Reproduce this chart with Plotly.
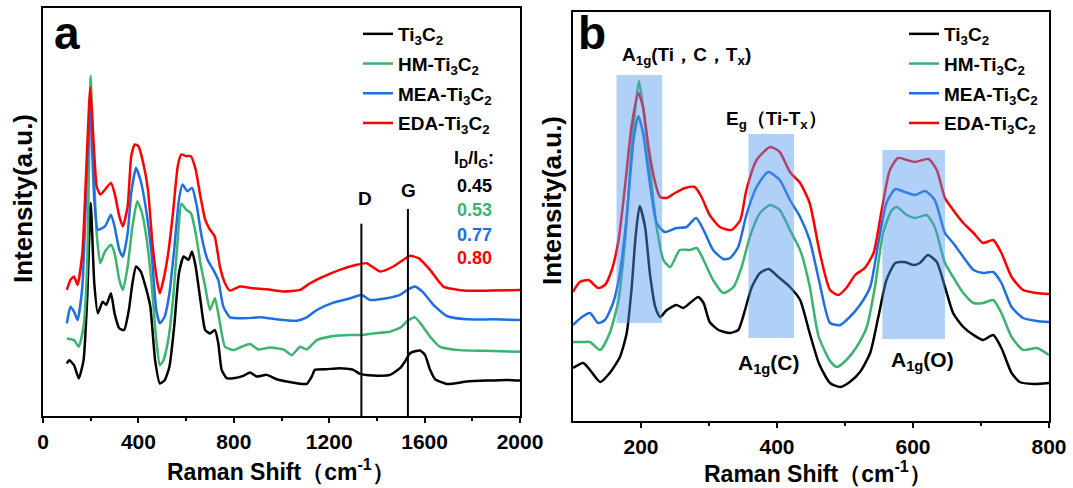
import plotly.graph_objects as go

W, H = 1073, 488
FONT = "Liberation Sans, Arial, sans-serif"

# ---------------- Panel a data (Raman shift cm-1, intensity a.u.) ----------------
a_black_x = [100,110,130,150,170,185,200,215,230,250,265,285,300,320,340,360,375,390,410,430,450,470,490,510,530,550,570,590,610,625,640,660,680,700,721,735,749,770,798,840,868,896,938,980,1022,1064,1106,1127,1140,1189,1245,1301,1329,1385,1455,1497,1518,1539,1581,1602,1623,1644,1693,1777,1861,1945,2000]
a_black_y = [157,167,152,112,167,347,637,397,307,342,332,367,307,262,257,317,397,447,432,387,327,167,97,107,147,267,427,477,467,492,447,347,257,247,257,217,138,113,113,120,130,118,123,110,103,98,96,118,138,140,143,138,126,121,123,143,163,188,196,182,138,110,96,103,106,108,106]

a_green_x = [100,130,150,170,185,200,210,225,240,260,285,300,320,335,355,375,395,415,435,455,475,490,505,525,545,565,580,600,620,640,660,680,700,721,742,763,798,833,868,903,952,1008,1043,1078,1106,1148,1218,1288,1336,1385,1455,1504,1532,1560,1588,1623,1665,1749,1847,2000]
a_green_y = [232,227,207,267,447,1017,797,547,457,492,512,487,407,377,447,567,642,607,527,397,227,152,167,227,347,527,635,617,607,547,457,387,317,352,277,207,197,207,215,199,205,199,182,207,199,227,239,242,242,247,252,267,287,295,272,237,207,197,195,192]

a_blue_x = [100,115,130,145,165,185,198,215,230,260,285,300,320,335,355,370,390,410,430,455,475,490,510,530,550,570,585,605,625,645,665,690,714,735,756,784,840,910,980,1064,1106,1148,1218,1288,1336,1371,1441,1497,1532,1560,1595,1637,1693,1777,1889,2000]
a_blue_y = [277,327,312,287,387,747,917,647,557,567,602,567,497,477,547,667,742,702,627,487,317,277,297,367,497,647,692,672,682,627,537,467,437,406,327,295,292,295,289,285,295,317,339,352,362,347,352,362,379,387,369,332,299,289,289,287]

a_red_x = [100,115,130,145,165,185,198,210,225,240,260,285,300,320,335,355,370,385,400,420,440,460,480,490,505,525,545,565,580,600,620,640,660,680,700,720,742,763,784,826,882,938,1008,1078,1120,1176,1245,1315,1357,1413,1469,1511,1539,1574,1623,1679,1763,1875,2000]
a_red_y = [377,407,417,392,487,797,982,847,687,662,677,697,667,597,567,627,777,812,807,757,677,507,397,367,407,487,607,747,782,777,777,737,657,587,557,537,446,397,375,387,382,379,372,377,397,417,437,452,457,432,447,467,479,472,437,387,375,375,377]

band_pos = [1335, 1530]          # D and G band positions
band_top = [575, 619]
band_names = ["D", "G"]
ratio_values = ["0.45", "0.53", "0.77", "0.80"]

# ---------------- Panel b data ----------------
b_black_x = [100,115,125,140,154,169,179,186,192,198,206,213,221,228,238,252,262,272,284,292,301,314,331,343,350,363,375,388,402,419,434,448,462,478,493,507,522,537,549,561,574,588,600,610,622,635,647,659,674,689,703,718,730,745,757,777,800]
b_black_y = [53,58,51,39,48,64,88,131,184,215,194,148,114,104,111,116,113,118,124,118,99,91,88,91,104,134,148,152,144,134,121,88,57,38,34,39,49,68,104,141,158,159,156,158,166,159,134,108,94,86,81,86,73,48,39,37,38]

b_green_x = [100,115,125,140,154,167,177,186,193,197,203,213,223,233,243,257,272,282,292,306,321,336,348,360,375,390,404,419,434,448,461,478,488,502,517,532,544,556,569,576,591,603,620,632,647,659,674,689,703,718,730,745,762,782,800]
b_green_y = [79,79,79,71,88,121,184,271,321,340,314,254,194,161,154,171,171,173,161,141,128,134,154,184,208,216,211,191,171,135,85,60,54,61,74,94,134,188,211,214,206,203,206,194,158,144,128,118,118,121,108,84,71,73,66]

b_blue_x = [100,113,125,137,147,159,169,179,189,196,203,213,223,235,252,267,281,292,306,321,331,343,355,370,387,404,419,434,448,462,478,493,507,522,537,549,561,574,588,603,618,632,647,659,674,689,703,718,730,745,762,782,800]
b_blue_y = [96,104,108,98,101,118,148,204,281,305,288,238,198,189,193,194,203,191,171,162,163,174,206,234,249,241,221,204,181,140,98,96,104,116,134,178,218,232,229,226,230,221,188,178,164,151,148,149,138,114,103,100,99]

b_red_x = [100,110,123,137,147,157,167,177,186,196,203,211,221,228,238,250,265,279,289,301,316,333,346,355,370,390,404,419,434,448,463,478,490,502,515,529,542,554,566,578,591,603,623,635,647,659,674,689,703,718,730,745,762,782,800]
b_red_y = [129,139,141,133,136,151,181,238,294,328,314,274,238,224,223,228,233,234,224,206,194,191,201,231,261,274,269,249,238,218,168,131,126,133,146,153,168,211,251,263,261,259,262,251,223,211,198,188,178,181,168,144,131,128,127]

# highlighted vibration-mode regions: x0, x1, y0, y1
mode_x0 = [164, 358, 555]
mode_x1 = [231, 425, 647]
mode_y0 = [98, 83, 82]
mode_y1 = [346, 287, 271]

names = ["Ti<sub>3</sub>C<sub>2</sub>", "HM-Ti<sub>3</sub>C<sub>2</sub>",
         "MEA-Ti<sub>3</sub>C<sub>2</sub>", "EDA-Ti<sub>3</sub>C<sub>2</sub>"]
colors = ["#000000", "#3cb371", "#1f6fe0", "#ff0000"]

a_series = [(a_black_x, a_black_y), (a_green_x, a_green_y), (a_blue_x, a_blue_y), (a_red_x, a_red_y)]
b_series = [(b_black_x, b_black_y), (b_green_x, b_green_y), (b_blue_x, b_blue_y), (b_red_x, b_red_y)]

fig = go.Figure()
for i, (xs, ys) in enumerate(a_series):
    fig.add_trace(go.Scatter(x=xs, y=ys, mode="lines", name=names[i],
                             line=dict(color=colors[i], width=2.5, shape="spline", smoothing=0.5),
                             xaxis="x", yaxis="y", legend="legend", legendgroup="a%d" % i))
for k in range(2):
    fig.add_trace(go.Scatter(x=[band_pos[k], band_pos[k]], y=[0, band_top[k]], mode="lines",
                             line=dict(color="black", width=2), showlegend=False,
                             xaxis="x", yaxis="y"))
for i, (xs, ys) in enumerate(b_series):
    fig.add_trace(go.Scatter(x=xs, y=ys, mode="lines", name=names[i],
                             line=dict(color=colors[i], width=2.5, shape="spline", smoothing=0.6),
                             xaxis="x2", yaxis="y2", legend="legend2", legendgroup="b%d" % i))

shapes = []
for k in range(3):
    shapes.append(dict(type="rect", xref="x2", yref="y2", x0=mode_x0[k], x1=mode_x1[k],
                       y0=mode_y0[k], y1=mode_y1[k], fillcolor="rgba(80,150,240,0.45)",
                       line=dict(width=0), layer="above"))

def px(x):
    return x / W

def py(y):
    return 1 - y / H

def ann(text, x, y, size, color="black", xanchor="center"):
    return dict(text=text, x=px(x), y=py(y), xref="paper", yref="paper", showarrow=False,
                xanchor=xanchor, yanchor="middle",
                font=dict(family=FONT, size=size, color=color, weight="bold"))

annotations = [
    ann("a", 67, 33, 46),
    ann("b", 592, 33, 46),
    ann("Intensity(a.u.)", 23, 199, 26),
    ann("Intensity(a.u.)", 552, 201, 26),
    ann("Raman Shift（cm<sup>-1</sup>）", 281, 470, 23),
    ann("Raman Shift（cm<sup>-1</sup>）", 818, 472, 23),
    ann(band_names[0], 365, 198, 19),
    ann(band_names[1], 408, 190, 19),
    ann("I<sub>D</sub>/I<sub>G</sub>:", 474, 160, 18),
    ann("A<sub>1g</sub>(Ti，C，T<sub>x</sub>)", 686, 56, 19),
    ann("E<sub>g</sub>（Ti-T<sub>x</sub>）", 776, 120, 19),
    ann("A<sub>1g</sub>(C)", 768, 364, 21),
    ann("A<sub>1g</sub>(O)", 922, 361, 21),
]
annotations[2]["textangle"] = -90
annotations[3]["textangle"] = -90
ratio_y = [186, 210, 235, 258]
for k in range(4):
    annotations.append(ann(ratio_values[k], 474, ratio_y[k], 18, colors[k]))

xaxis_common = dict(showline=True, linewidth=2, linecolor="black", mirror=True,
                    ticks="outside", ticklen=5, tickwidth=2, tickcolor="black",
                    showgrid=False, zeroline=False, automargin=False,
                    tickfont=dict(family=FONT, size=21, color="black", weight="bold"),
                    ticklabelstandoff=1)
yaxis_common = dict(showline=True, linewidth=2, linecolor="black", mirror=True, automargin=False,
                    ticks="", showticklabels=False, showgrid=False, zeroline=False)

legend_font = dict(family=FONT, size=19, color="black", weight="bold")

fig.update_layout(
    template="none",
    width=W, height=H, margin=dict(l=0, r=0, t=0, b=0, autoexpand=False),
    paper_bgcolor="white", plot_bgcolor="white",
    xaxis=dict(domain=[px(43), px(520)], range=[0, 2000], tickvals=[0, 400, 800, 1200, 1600, 2000],
               minor=dict(tickvals=[200, 600, 1000, 1400, 1800], ticks="outside", ticklen=3, tickwidth=2, tickcolor="black"),
               anchor="y", **xaxis_common),
    yaxis=dict(domain=[py(416), py(8)], range=[0, 1220], anchor="x", **yaxis_common),
    xaxis2=dict(domain=[px(573), px(1049)], range=[100, 800], tickvals=[200, 400, 600, 800],
                minor=dict(tickvals=[300, 500, 700], ticks="outside", ticklen=3, tickwidth=2, tickcolor="black"),
                anchor="y2", **xaxis_common),
    yaxis2=dict(domain=[py(421), py(12)], range=[0, 409], anchor="x2", **yaxis_common),
    legend=dict(x=px(358), y=py(15), xanchor="left", yanchor="top", bgcolor="rgba(0,0,0,0)",
                font=legend_font, tracegroupgap=2),
    legend2=dict(x=px(904), y=py(15), xanchor="left", yanchor="top", bgcolor="rgba(0,0,0,0)",
                 font=legend_font, tracegroupgap=2),
    shapes=shapes, annotations=annotations, showlegend=True,
)

fig.write_html("out.html")
